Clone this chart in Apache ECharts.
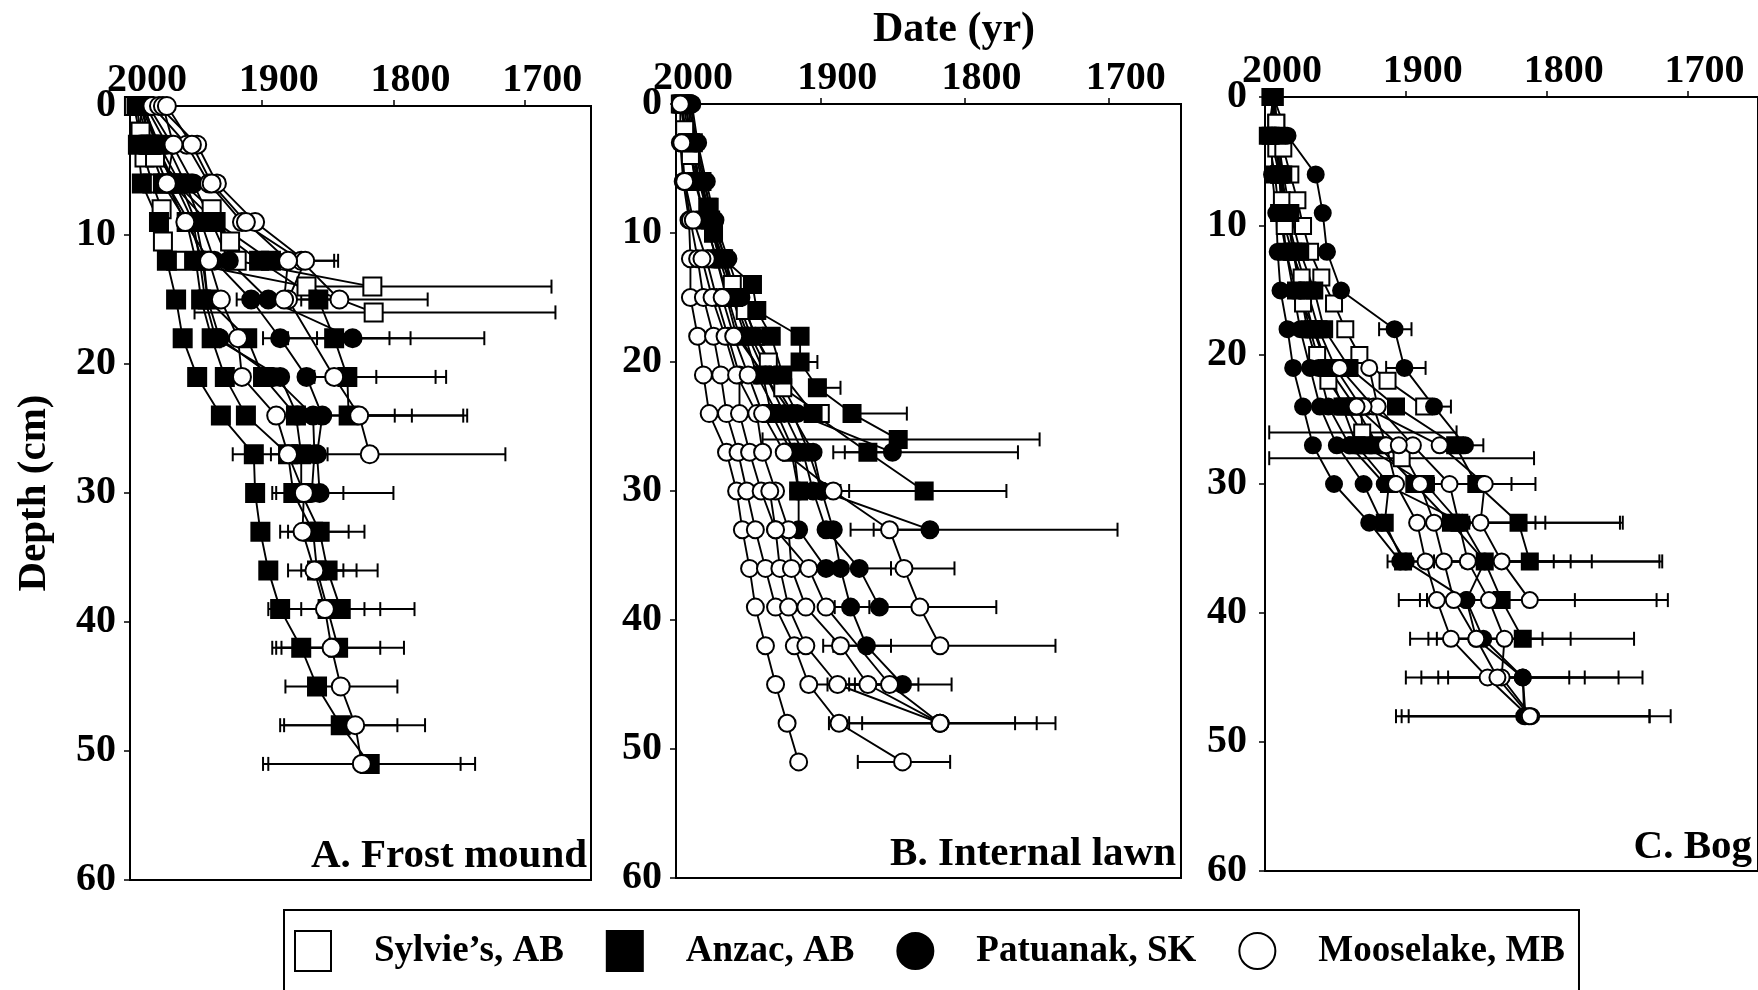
<!DOCTYPE html>
<html><head><meta charset="utf-8">
<script src="https://cdn.jsdelivr.net/npm/echarts@6/dist/echarts.min.js"></script>
<style>html,body{margin:0;padding:0;background:#fff}#c{width:1758px;height:990px}</style>
</head><body><div id="c"></div>
<script>
// ---------- DATA (each core: list of [depth cm, date yr]) ----------
const siteNames = ['Sylvie’s, AB', 'Anzac, AB', 'Patuanak, SK', 'Mooselake, MB'];
const xTicks = [2000, 1900, 1800, 1700];
const panelTitles = ['A. Frost mound', 'B. Internal lawn', 'C. Bog'];

// Panel A – Frost mound
const A_sylvie = [
  [[0,1997],[2,1993],[4,1989],[6,1983],[8,1976],[10.5,1975],[12,1965],[14,1866],[16,1815]],
  [[0,1995],[2,1992],[4,1981],[6,1960],[8,1938],[10.5,1924],[12,1919],[14,1816]]
];
const A_anzac = [
  [[0,1991],[3,1994],[6,1991],[9,1978],[12,1972],[15,1965],[18,1960],[21,1949],[24,1931],[27,1906],[30,1905],[33,1901],[36,1895],[39,1886],[42,1870],[45,1858],[48,1840],[51,1818]],
  [[0,1990],[3,1986],[6,1975],[9,1957],[12,1950],[15,1946],[18,1938],[21,1928],[24,1912],[27,1880],[30,1876],[33,1861],[36,1858],[39,1850],[42,1842]],
  [[0,1989],[3,1980],[6,1968],[9,1941],[12,1902],[15,1857],[18,1845],[21,1835],[24,1834]],
  [[0,1992],[3,1984],[6,1972],[9,1955],[12,1945],[15,1941],[18,1911],[21,1899],[24,1874],[27,1870],[30,1870],[33,1856],[36,1850],[39,1840]],
  [[0,1994],[3,1985],[6,1965],[9,1935],[12,1893]]
];
const A_patuanak = [
  [[0,1988],[3,1972],[6,1958],[9,1946],[12,1936],[15,1908],[18,1886],[21,1866],[24,1854],[27,1858],[30,1856]],
  [[0,1986],[3,1968],[6,1952],[9,1938],[12,1925],[15,1895],[18,1831]],
  [[0,1990],[3,1978],[6,1962],[9,1950],[12,1944],[15,1941],[18,1932],[21,1891],[24,1861],[27,1860],[30,1862]],
  [[0,1991],[3,1980],[6,1966],[9,1952],[12,1947],[15,1943],[18,1935],[21,1886],[24,1873]]
];
const A_mooselake = [
  [[0,1983],[3,1957],[6,1940],[9,1915],[12,1870],[15,1841]],
  [[0,1978],[3,1949],[6,1934],[9,1905],[12,1867],[15,1880],[21,1845],[24,1826],[27,1818]],
  [[0,1975],[3,1967],[6,1972],[9,1958],[12,1940],[15,1931],[18,1918],[21,1915],[24,1889],[27,1880],[30,1868],[33,1869],[36,1860],[39,1852],[42,1847],[45,1840],[48,1829],[51,1824]],
  [[0,1972],[3,1953],[6,1938],[9,1912],[12,1880],[15,1883]]
];
// error bars: [depth, younger date, older date]
const A_err = [
  [12,1890,1842],[12,1885,1845],[14,1866,1680],[15,1919,1774],[15,1870,1840],[16,1951,1677],
  [18,1899,1803],[18,1858,1787],[18,1880,1731],[21,1860,1813],[21,1840,1768],[21,1850,1760],
  [24,1860,1799],[24,1850,1786],[24,1840,1747],[24,1830,1744],[27,1922,1857],[27,1893,1850],[27,1860,1715],
  [30,1892,1838],[30,1889,1800],[33,1886,1834],[33,1880,1822],[36,1880,1838],[36,1870,1828],[36,1860,1812],
  [39,1895,1822],[39,1880,1810],[39,1870,1784],[42,1892,1810],[42,1889,1792],[42,1885,1840],
  [45,1882,1797],[48,1886,1797],[48,1883,1776],[51,1899,1749],[51,1895,1738]
];

// Panel B – Internal lawn
const B_sylvie = [
  [[0,1997],[2,1994],[4,1990],[6,1984],[8,1977],[10,1974],[12,1969],[14,1961],[16,1952],[18,1945],[20,1936],[22,1926],[24,1900]]
];
const B_anzac = [
  [[0,1995],[3,1990],[6,1984],[8,1978],[10,1974],[12,1967],[14,1947],[16,1944],[18,1934],[21,1926],[24,1905],[27,1867],[30,1828]],
  [[0,1994],[3,1988],[6,1982],[9,1976],[12,1968],[15,1960],[18,1914],[20,1914],[22,1902],[24,1878],[26,1846]],
  [[0,1996],[3,1992],[6,1986],[9,1980],[12,1972],[15,1964],[18,1956],[21,1940],[24,1934],[27,1920],[30,1915]]
];
const B_patuanak = [
  [[0,1990],[3,1986],[6,1980],[9,1975],[12,1966],[15,1958],[18,1948],[21,1935],[24,1919],[27,1908],[30,1899],[33,1891],[36,1886],[39,1879],[42,1868],[45,1843]],
  [[0,1989],[3,1985],[6,1979],[9,1973],[12,1964],[15,1955],[18,1945],[21,1930],[24,1916],[27,1850]],
  [[0,1991],[3,1987],[6,1981],[9,1974],[12,1966],[15,1960],[18,1950],[21,1938],[24,1925],[27,1912],[30,1905],[33,1896],[36,1873],[39,1859]],
  [[0,1992],[6,1984],[12,1970],[18,1952],[21,1944],[24,1930],[27,1918],[30,1915],[33,1915],[36,1896]],
  [[0,1993],[6,1987],[12,1972],[18,1958],[24,1920],[27,1905],[30,1899],[33,1824]]
];
const B_mooselake = [
  [[0,1997],[3,1997],[6,1995],[9,1991],[12,1990],[15,1990],[18,1985],[21,1981],[24,1977],[27,1965],[30,1958],[33,1954],[36,1949],[39,1945],[42,1938],[45,1931],[48,1923],[51,1915]],
  [[3,1996],[6,1994],[9,1990],[12,1985],[15,1981],[18,1974],[21,1969],[24,1965],[27,1957],[30,1951],[33,1945],[36,1938],[39,1931],[42,1918],[45,1908],[48,1887],[51,1843]],
  [[6,1994],[9,1988],[12,1979],[15,1972],[18,1964],[21,1956],[24,1956],[27,1949],[30,1941],[33,1931],[36,1928],[39,1922],[42,1910],[45,1888],[48,1817]],
  [[12,1982],[15,1975],[18,1966],[21,1958],[24,1944],[27,1940],[30,1931],[33,1922],[36,1920],[39,1910],[42,1886],[45,1867],[48,1817]],
  [[15,1968],[18,1960],[21,1950],[24,1940],[27,1925],[30,1891],[33,1852],[36,1842],[39,1831],[42,1817]],
  [[30,1935],[33,1931],[36,1908],[39,1896],[45,1852],[48,1817]]
];
const B_err = [
  [20,1914,1902],[22,1902,1886],[24,1878,1840],[26,1940,1748],[27,1891,1763],[27,1883,1850],
  [30,1886,1771],[30,1880,1828],[33,1879,1694],[33,1863,1824],[36,1851,1807],[36,1873,1851],
  [39,1890,1778],[39,1883,1859],[39,1866,1859],[42,1898,1737],[42,1891,1851],
  [45,1904,1832],[45,1895,1809],[45,1880,1843],[45,1876,1843],[48,1894,1737],[48,1871,1765],[48,1880,1750],
  [51,1874,1810]
];

// Panel C – Bog
const C_sylvie = [
  [[0,1996],[2,1992],[4,1992],[6,1990],[8,1988],[10,1986],[12,1981],[14,1974],[16,1973],[18,1968],[20,1963],[22,1955],[24,1943],[26,1931],[28,1903]],
  [[0,1996],[2,1992],[4,1987],[6,1982],[8,1977],[10,1973],[12,1968],[14,1960],[16,1951],[18,1943],[20,1933],[22,1913],[24,1887]]
];
const C_anzac = [
  [[0,1994],[3,1998],[6,1993],[9,1990],[12,1985],[15,1978],[18,1965],[21,1955],[24,1936],[27,1920],[30,1894],[33,1868],[36,1844],[39,1832],[42,1817]],
  [[0,1993],[3,1991],[6,1987],[9,1982],[12,1975],[15,1965],[18,1958],[21,1940],[24,1907],[27,1865],[30,1850],[33,1820],[36,1812]],
  [[3,1996],[6,1990],[9,1985],[12,1978],[15,1970],[18,1962],[21,1950],[24,1932],[27,1930],[30,1886],[33,1862]],
  [[0,1995],[6,1989],[12,1980],[18,1966],[24,1945],[27,1935],[30,1912],[33,1915],[36,1902]]
];
const C_patuanak = [
  [[0,1994],[3,1984],[6,1964],[9,1959],[12,1956],[15,1946],[18,1908],[21,1901],[24,1880],[27,1858]],
  [[0,1995],[3,1995],[6,1995],[9,1992],[12,1991],[15,1989],[18,1984],[21,1980],[24,1973],[27,1966],[30,1951],[33,1926],[36,1904]],
  [[3,1993],[6,1990],[9,1988],[12,1985],[15,1980],[18,1975],[21,1968],[24,1961],[27,1949],[30,1930],[33,1917],[36,1900],[39,1857],[42,1850],[45,1817],[48,1815]],
  [[0,1994],[6,1988],[12,1980],[15,1975],[18,1970],[21,1962],[24,1955],[27,1940],[30,1915],[33,1860],[36,1844],[39,1857],[42,1845],[45,1817],[48,1816]]
];
const C_mooselake = [
  [[21,1947],[24,1923],[27,1914],[30,1907],[33,1892],[36,1886],[39,1878],[42,1868],[45,1842],[48,1813]],
  [[21,1926],[24,1920],[27,1895],[30,1869],[36,1856],[39,1841],[42,1830],[45,1832],[48,1811]],
  [[24,1930],[27,1876],[30,1844],[33,1847],[36,1832],[39,1812]],
  [[24,1935],[27,1905],[30,1890],[33,1880],[36,1873],[39,1866],[42,1850],[45,1835],[48,1812]]
];
const C_err = [
  [18,1919,1896],[21,1914,1886],[24,1887,1868],[26,1997,1864],[28,1997,1809],[27,1862,1857],[27,1857,1845],
  [30,1880,1825],[30,1870,1808],[33,1880,1808],[33,1870,1801],[33,1860,1748],[33,1855,1746],
  [36,1913,1795],[36,1900,1783],[36,1880,1768],[36,1870,1718],[36,1860,1720],
  [39,1905,1780],[39,1890,1722],[39,1885,1714],[42,1897,1803],[42,1884,1783],[42,1878,1738],
  [45,1900,1784],[45,1889,1773],[45,1877,1749],[45,1870,1732],[48,1907,1727],[48,1903,1712],[48,1898,1727]
];

// ---------- LAYOUT / STYLE ----------
const FONT = '"Liberation Serif","Times New Roman",serif';
const siteStyle = [
  {symbol:'rect', fill:'#fff'},
  {symbol:'rect', fill:'#000'},
  {symbol:'circle', fill:'#000'},
  {symbol:'circle', fill:'#fff'}
];
const panels = [
  {grid:{left:130, top:106, width:461, height:774}, sites:[A_sylvie,A_anzac,A_patuanak,A_mooselake], err:A_err, size:18, ylabPad:[6,0,0,0], ymargin:14, title:{x:587,y:877}},
  {grid:{left:676, top:104, width:505, height:774}, sites:[B_sylvie,B_anzac,B_patuanak,B_mooselake], err:B_err, size:17, ylabPad:[10,0,0,0], ymargin:14, title:{x:1176,y:875}},
  {grid:{left:1265, top:97, width:495, height:774}, sites:[C_sylvie,C_anzac,C_patuanak,C_mooselake], err:C_err, size:16, ylabPad:[20,0,0,0], ymargin:18, title:{x:1752,y:868}}
];

const labelStyle = {fontFamily:FONT, fontWeight:'bold', fontSize:40, color:'#000'};
const axLine = {show:true, lineStyle:{color:'#000', width:2}};

const grid = [], xAxis = [], yAxis = [], series = [], graphic = [];

// legend carriers (first series with each name defines the legend icon)
siteNames.forEach((n, s) => {
  series.push({type:'scatter', name:n, xAxisIndex:0, yAxisIndex:0, data:[], symbol:siteStyle[s].symbol,
    itemStyle:{color:siteStyle[s].fill, opacity:1, borderColor:'#000', borderWidth:2}});
});

function renderErr(params, api) {
  const d = api.value(0), a = api.value(1), b = api.value(2);
  const p0 = api.coord([a, d]), p1 = api.coord([b, d]);
  const h = 7, st = {stroke:'#000', lineWidth:2};
  return {type:'group', children:[
    {type:'line', shape:{x1:p0[0], y1:p0[1], x2:p1[0], y2:p1[1]}, style:st},
    {type:'line', shape:{x1:p0[0], y1:p0[1]-h, x2:p0[0], y2:p0[1]+h}, style:st},
    {type:'line', shape:{x1:p1[0], y1:p1[1]-h, x2:p1[0], y2:p1[1]+h}, style:st}
  ]};
}

panels.forEach((p, i) => {
  grid.push(Object.assign({show:true, borderColor:'#000', borderWidth:2, backgroundColor:'transparent'}, p.grid));
  xAxis.push({gridIndex:i, type:'value', position:'top', inverse:true, min:1650, max:2000,
    axisLine:axLine,
    axisTick:{show:true, inside:false, length:6, customValues:xTicks, lineStyle:{color:'#000', width:1.5}},
    axisLabel:Object.assign({customValues:xTicks, margin:5, padding:[0,0,0,34], formatter:v => String(v)}, labelStyle),
    splitLine:{show:false}});
  yAxis.push({gridIndex:i, type:'value', inverse:true, min:0, max:60, interval:10,
    axisLine:axLine,
    axisTick:{show:true, inside:false, length:6, lineStyle:{color:'#000', width:1.5}},
    axisLabel:Object.assign({margin:p.ymargin, padding:p.ylabPad, formatter:v => String(v)}, labelStyle),
    splitLine:{show:false}});
  series.push({type:'custom', xAxisIndex:i, yAxisIndex:i, renderItem:renderErr, data:p.err,
    encode:{x:[1,2], y:0}, z:1, silent:true});
  p.sites.forEach((cores, s) => {
    cores.forEach(core => {
      series.push({type:'line', name:siteNames[s], xAxisIndex:i, yAxisIndex:i,
        data:core.map(([d, y]) => [y, d]),
        symbol:siteStyle[s].symbol, symbolSize:p.size, showSymbol:true, showAllSymbol:true,
        lineStyle:{color:'#000', width:1.9},
        itemStyle:{color:siteStyle[s].fill, opacity:1, borderColor:'#000', borderWidth:2},
        emphasis:{disabled:true}, z:3, silent:true});
    });
  });
  graphic.push({type:'text', x:p.title.x, y:p.title.y, z:10,
    style:{text:panelTitles[i], font:'bold 41px ' + FONT, fill:'#000', textAlign:'right', textVerticalAlign:'bottom'}});
});

graphic.push({type:'text', x:954, y:30, style:{text:'Date (yr)', font:'bold 42px ' + FONT, fill:'#000', textAlign:'center', textVerticalAlign:'middle'}});
graphic.push({type:'text', x:34, y:493, rotation:Math.PI/2, style:{text:'Depth (cm)', font:'bold 41px ' + FONT, fill:'#000', textAlign:'center', textVerticalAlign:'middle'}});

const chart = echarts.init(document.getElementById('c'), null, {renderer:'canvas'});
chart.setOption({
  animation:false,
  backgroundColor:'#fff',
  grid, xAxis, yAxis, series, graphic,
  legend:{
    left:284, top:910, orient:'horizontal', selectedMode:false,
    data:[{name:siteNames[0], icon:'rect'},{name:siteNames[1], icon:'rect'},{name:siteNames[2], icon:'circle'},{name:siteNames[3], icon:'circle'}],
    itemWidth:36, itemHeight:40, itemGap:42,
    itemStyle:{opacity:1},
    textStyle:{fontFamily:FONT, fontWeight:'bold', fontSize:37, color:'#000', padding:[0,0,0,38]},
    borderColor:'#000', borderWidth:2, padding:[20,14,20,10]
  }
});
</script></body></html>
